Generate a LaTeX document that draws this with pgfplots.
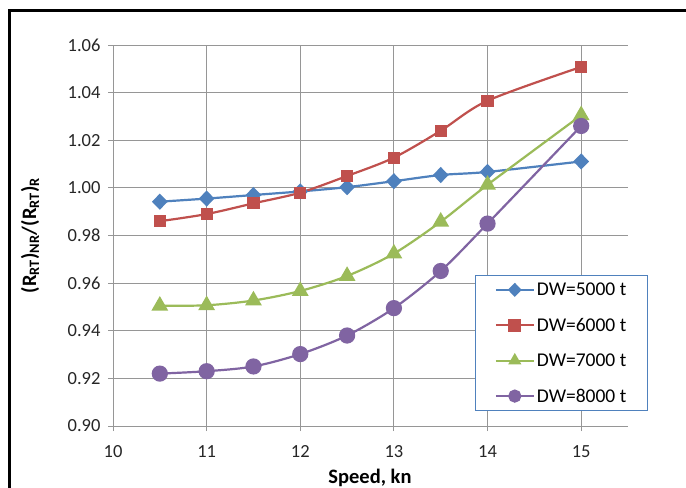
\documentclass[border=0pt]{standalone}
\usepackage{pgfplots}
\pgfplotsset{compat=1.18}
\usepackage{fontspec}
\setmainfont{Carlito}
\definecolor{cblue}{HTML}{4F81BD}
\definecolor{cred}{HTML}{C0504D}
\definecolor{cgreen}{HTML}{9BBB59}
\definecolor{cpurple}{HTML}{8064A2}
\definecolor{gridc}{RGB}{150,150,150}
\begin{document}
\begin{tikzpicture}
\useasboundingbox (0,0) rectangle (686bp,488bp);
\fill[white] (0,0) rectangle (686bp,488bp);
\draw[line width=2.2bp,black] (9.5bp,0) -- (9.5bp,477.5bp) -- (686bp,477.5bp);
\begin{axis}[
  at={(113bp,62bp)}, anchor=south west,
  scale only axis, width=515bp, height=381bp,
  xmin=10, xmax=15.5, ymin=0.9, ymax=1.06,
  xtick={10,11,12,13,14,15},
  ytick={0.90,0.92,0.94,0.96,0.98,1.00,1.02,1.04,1.06},
  axis x line*=bottom, axis y line*=left,
  axis line style={gridc, line width=0.9bp, -},
  grid=major,
  major grid style={gridc, line width=0.9bp},
  tick style={gridc, line width=0.9bp},
  tick align=outside, major tick length=5bp,
  /pgf/number format/assume math mode=true,
  yticklabel style={/pgf/number format/fixed, /pgf/number format/fixed zerofill, /pgf/number format/precision=2, xshift=-4bp},
  xticklabel style={/pgf/number format/fixed, yshift=-11bp},
  ticklabel style={font=\fontsize{18.5bp}{20bp}\selectfont, text=black!85},
  xlabel={\textbf{Speed, kn}},
  ylabel={\textbf{(R\textsubscript{RT})\textsubscript{NR}/(R\textsubscript{RT})\textsubscript{R}}},
  label style={font=\fontsize{20.5bp}{22bp}\selectfont},
  xlabel style={at={(axis description cs:0.499,-0.135)}, anchor=center},
  ylabel style={at={(axis description cs:-0.161,0.5)}, anchor=center},
  legend style={at={(0.703,0.396)}, anchor=north west, draw=cblue, line width=1.3bp,
    fill=white, font=\fontsize{19.5bp}{21bp}\selectfont, inner xsep=19bp, inner ysep=5bp,
    row sep=17bp, cells={anchor=west}},
  legend image code/.code={\draw[mark repeat=2,mark phase=2,#1,mark size=5.5bp] plot coordinates {(0bp,0bp) (19bp,0bp) (38bp,0bp)};},
  every axis plot/.append style={line width=2.2bp, smooth, tension=0.5},
]
\addplot[cblue, mark=diamond*, mark size=6.5bp, mark options={xscale=1.3, solid}] coordinates {
(10.5,0.9942) (11,0.9955) (11.5,0.9970) (12,0.9985) (12.5,1.0003) (13,1.0028) (13.5,1.0054) (14,1.0067) (15,1.0111)};
\addlegendentry{DW=5000 t}
\addplot[cred, mark=square*, mark size=5bp, mark options={solid}] coordinates {
(10.5,0.9860) (11,0.9890) (11.5,0.9935) (12,0.9980) (12.5,1.0050) (13,1.0127) (13.5,1.0240) (14,1.0366) (15,1.0508)};
\addlegendentry{DW=6000 t}
\addplot[cgreen, mark=triangle*, mark size=7.5bp, mark options={solid}] coordinates {
(10.5,0.9505) (11,0.9507) (11.5,0.9527) (12,0.9567) (12.5,0.9630) (13,0.9724) (13.5,0.9858) (14,1.0013) (15,1.0305)};
\addlegendentry{DW=7000 t}
\addplot[cpurple, mark=*, mark size=7bp, mark options={solid}] coordinates {
(10.5,0.9220) (11,0.9230) (11.5,0.9250) (12,0.9302) (12.5,0.9380) (13,0.9495) (13.5,0.9651) (14,0.9850) (15,1.0260)};
\addlegendentry{DW=8000 t}
\end{axis}
\end{tikzpicture}
\end{document}
